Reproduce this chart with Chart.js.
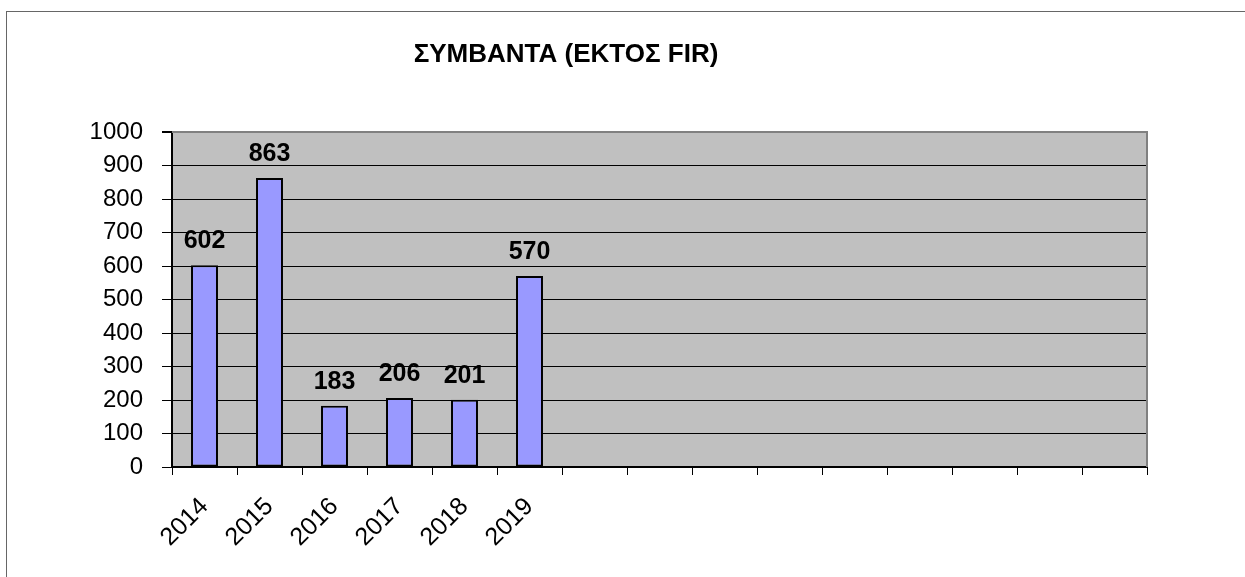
<!DOCTYPE html>
<html>
<head>
<meta charset="utf-8">
<script src="https://cdn.jsdelivr.net/npm/chart.js@4/dist/chart.umd.min.js"></script>
<style>
  html, body { margin: 0; padding: 0; background: #fff; }
  #wrap { width: 1245px; height: 577px; position: relative; }
</style>
</head>
<body>
<div id="wrap"><canvas id="incidentsChart"></canvas></div>
<script>
const chartTitle = 'ΣΥΜΒΑΝΤΑ (ΕΚΤΟΣ FIR)';
// 15 category slots on the axis, only the first six are labelled
const years = ['2014', '2015', '2016', '2017', '2018', '2019', '', '', '', '', '', '', '', '', ''];
const incidents = [602, 863, 183, 206, 201, 570, null, null, null, null, null, null, null, null, null];
const yTicks = [0, 100, 200, 300, 400, 500, 600, 700, 800, 900, 1000];

const fontFamily = '"Liberation Sans", Arial, sans-serif';

const frameAndTitle = {
    id: 'frameAndTitle',
    beforeDraw(chart) {
        const { ctx, chartArea: a } = chart;
        ctx.save();
        ctx.fillStyle = '#C0C0C0';
        ctx.fillRect(a.left, a.top, a.right - a.left, a.bottom - a.top);
        ctx.restore();
    },
    beforeDatasetsDraw(chart) {
        const { ctx, chartArea: a } = chart;
        ctx.save();
        ctx.strokeStyle = '#808080';
        ctx.lineWidth = 2;
        ctx.beginPath();
        ctx.moveTo(a.left, a.top);
        ctx.lineTo(a.right, a.top);
        ctx.lineTo(a.right, a.bottom);
        ctx.stroke();
        ctx.restore();
    },
    afterDatasetsDraw(chart) {
        const { ctx } = chart;
        const meta = chart.getDatasetMeta(0);
        ctx.save();
        ctx.fillStyle = '#000';
        ctx.font = 'bold 25px ' + fontFamily;
        ctx.textAlign = 'center';
        ctx.textBaseline = 'alphabetic';
        meta.data.forEach((bar, i) => {
            const v = incidents[i];
            if (v === null) return;
            ctx.fillText(String(v), bar.x, bar.y - 17);
        });
        ctx.restore();
    },
    afterDraw(chart) {
        const { ctx } = chart;
        ctx.save();
        ctx.strokeStyle = '#666';
        ctx.lineWidth = 1;
        ctx.strokeRect(6.5, 11.5, 1400, 800);
        ctx.fillStyle = '#000';
        ctx.font = 'bold 26px ' + fontFamily;
        ctx.textAlign = 'center';
        ctx.fillText(chartTitle, 566, 62);
        ctx.restore();
    }
};

const ctx = document.getElementById('incidentsChart').getContext('2d');

let chart = new Chart(ctx, {
    type: 'bar',
    data: {
        labels: years,
        datasets: [{
            label: chartTitle,
            data: incidents,
            backgroundColor: '#9999FF',
            borderColor: '#000',
            borderWidth: 2,
            borderSkipped: false,
            categoryPercentage: 1,
            barPercentage: 0.415,
        }],
    },
    options: {
        responsive: true,
        maintainAspectRatio: false,
        animation: false,
        layout: {
            padding: { top: 132, right: 98, bottom: 0, left: 0 }
        },
        plugins: {
            legend: { display: false },
            tooltip: { enabled: false },
            title: { display: false }
        },
        scales: {
            x: {
                offset: true,
                grid: {
                    offset: true,
                    drawOnChartArea: false,
                    drawTicks: true,
                    tickLength: 8,
                    color: '#000',
                },
                border: { color: '#000', width: 2 },
                ticks: {
                    color: '#000',
                    minRotation: 45,
                    maxRotation: 45,
                    autoSkip: false,
                    padding: 17,
                    font: { family: fontFamily, size: 25 },
                },
                afterFit: (scale) => { scale.height = 110; }
            },
            y: {
                min: 0,
                max: 1000,
                afterBuildTicks: (scale) => {
                    scale.ticks = yTicks.map(v => ({ value: v }));
                },
                grid: {
                    color: (c) => c.tick && c.tick.value === 1000 ? '#808080' : '#000',
                    lineWidth: (c) => c.tick && c.tick.value === 1000 ? 2 : 1,
                    tickLength: 10,
                    tickColor: '#000',
                },
                border: { color: '#000', width: 2 },
                ticks: {
                    color: '#000',
                    padding: 19,
                    font: { family: fontFamily, size: 24 },
                    callback: (value) => String(value),
                },
                afterFit: (scale) => { scale.width = 172; }
            },
        },
    },
    plugins: [frameAndTitle],
});
</script>
</body>
</html>
